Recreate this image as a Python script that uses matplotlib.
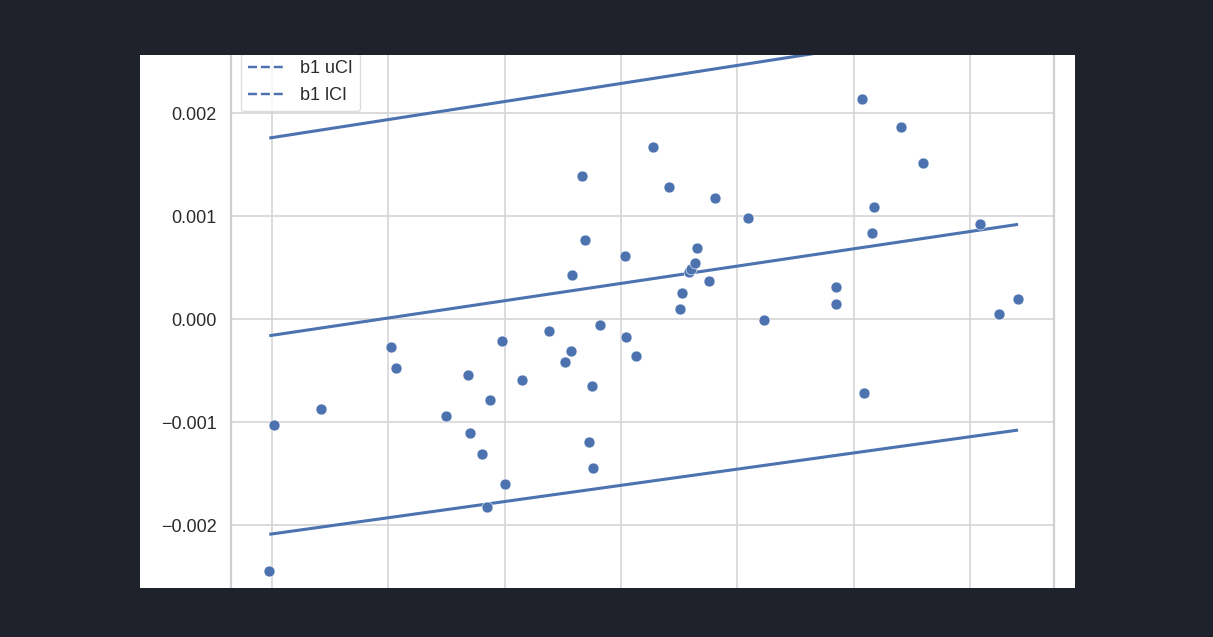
import matplotlib
matplotlib.use("Agg")
import matplotlib.pyplot as plt
import seaborn as sns
from matplotlib.lines import Line2D
from matplotlib.patches import Rectangle

# ---- data ----
x_vals = [-3.024, -2.986, -2.582, -1.980, -1.937, -1.505, -1.318, -1.296, -1.193, -1.155,
          -1.126, -1.023, -0.997, -0.854, -0.615, -0.482, -0.432, -0.421, -0.333, -0.310,
          -0.278, -0.249, -0.238, -0.181, 0.034, 0.043, 0.132, 0.273, 0.415, 0.507,
          0.524, 0.587, 0.602, 0.639, 0.656, 0.757, 0.806, 1.089, 1.230, 1.851,
          1.851, 2.075, 2.092, 2.156, 2.173, 2.405, 2.597, 3.089, 3.253, 3.414]
y_vals = [-2.447, -1.029, -0.871, -0.269, -0.473, -0.939, -0.541, -1.110, -1.314, -1.825,
          -0.789, -0.211, -1.605, -0.595, -0.121, -0.415, -0.311, 0.424, 1.391, 0.767,
          -1.197, -0.653, -1.450, -0.061, 0.609, -0.178, -0.359, 1.667, 1.279, 0.094,
          0.255, 0.459, 0.483, 0.547, 0.686, 0.369, 1.172, 0.983, -0.005, 0.311,
          0.143, 2.139, -0.721, 0.835, 1.084, 1.867, 1.517, 0.919, 0.051, 0.197]
x_vals = [v * 1e-3 for v in x_vals]
y_vals = [v * 1e-3 for v in y_vals]

line_x = [-3.024e-3, 3.414e-3]
fit_y = [-0.162e-3, 0.919e-3]
ucl_y = [1.757e-3, 2.885e-3]
lcl_y = [-2.090e-3, -1.078e-3]

labels = ["b1 uCI", "b1 lCI"]
ytick_vals = [-0.002, -0.001, 0.0, 0.001, 0.002]
ytick_labels = ["\u22120.002", "\u22120.001", "0.000", "0.001", "0.002"]
xgrid_vals = [-0.003, -0.002, -0.001, 0.0, 0.001, 0.002, 0.003]

# ---- style ----
sns.set_theme(style="whitegrid")
plt.rcParams["font.family"] = ["Liberation Sans", "DejaVu Sans"]

W, H = 1213, 637
fig = plt.figure(figsize=(W / 100, H / 100), dpi=100, facecolor="white")
blue = "#4C72B0"
dark = "#1f222a"

ax = fig.add_axes([231 / W, (H - 620) / H, (1054 - 231) / W, 600 / H])
ax.set_xlim(-3.353e-3, 3.723e-3)
ax.set_ylim(-2.922e-3, 2.903e-3)

ax.plot(line_x, ucl_y, color=blue, lw=2.2, solid_capstyle="butt")
ax.plot(line_x, fit_y, color=blue, lw=2.2, solid_capstyle="butt")
ax.plot(line_x, lcl_y, color=blue, lw=2.2, solid_capstyle="butt")
ax.scatter(x_vals, y_vals, s=62, color=blue, edgecolors="white", linewidths=0.4, zorder=3)

ax.set_yticks(ytick_vals)
ax.set_yticklabels(ytick_labels)
ax.set_xticks(xgrid_vals)
ax.set_xticklabels([])
ax.tick_params(axis="y", length=0, pad=10.5, labelsize=13, labelcolor="#2b2b2b")
ax.tick_params(axis="x", length=0)
ax.grid(True, color="#d5d5d5", lw=1.2)
for side in ["left", "right"]:
    ax.spines[side].set_color("#cfcfcf")
    ax.spines[side].set_linewidth(1.6)
for side in ["top", "bottom"]:
    ax.spines[side].set_visible(False)

handles = [Line2D([0], [0], color=blue, lw=1.75, ls="--"),
           Line2D([0], [0], color=blue, lw=1.75, ls="--")]
leg = ax.legend(handles, labels, loc="upper left",
                bbox_to_anchor=(241 / W, (H - 53) / H),
                bbox_transform=fig.transFigure, borderaxespad=0,
                fontsize=13, frameon=True, labelspacing=0.55,
                handlelength=2.0, handletextpad=0.85, borderpad=0.4)
leg.get_frame().set_edgecolor("#d5d5d5")
for t in leg.get_texts():
    t.set_color("#2b2b2b")

# dark surround (the chart image sits inside a dark page)
for (x0, y0, w, h) in [(0, 0, W, 49), (0, H - 55, W, 55), (0, 0, 140, H), (1075, 0, W - 1075, H)]:
    fig.add_artist(Rectangle((x0 / W, y0 / H), w / W, h / H, transform=fig.transFigure,
                             facecolor=dark, edgecolor="none", zorder=10))

fig.savefig("out.png", dpi=100, facecolor=fig.get_facecolor())
